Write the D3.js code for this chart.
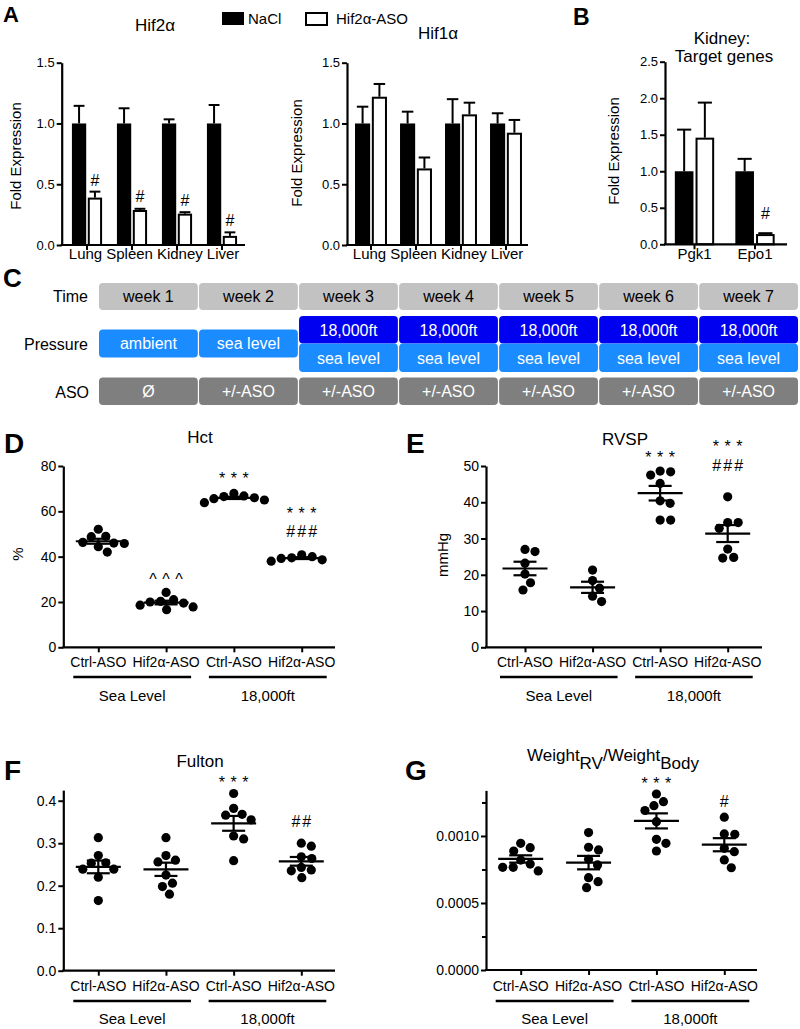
<!DOCTYPE html>
<html><head><meta charset="utf-8">
<script src="https://cdn.jsdelivr.net/npm/d3@7"></script>
<style>
body{margin:0;background:#fff;}
</style></head><body>
<svg id="fig" width="800" height="1029" xmlns="http://www.w3.org/2000/svg"></svg>
<script>
// ================= DATA =================
// Panel A / B (bar charts)
const legendLabels = ["NaCl", "Hif2α-ASO"];
const tissues = ["Lung", "Spleen", "Kidney", "Liver"];
const hif2aNaCl = [1.00, 1.00, 1.00, 1.00];
const hif2aNaClErr = [0.145, 0.125, 0.034, 0.152];
const hif2aASO = [0.39, 0.288, 0.258, 0.075];
const hif2aASOErr = [0.049, 0.010, 0.012, 0.029];
const hif2aMarks = ["#", "#", "#", "#"];
const hif2aMarkAt = [0.535, 0.40, 0.37, 0.206];

const hif1aNaCl = [1.00, 1.00, 1.00, 1.00];
const hif1aNaClErr = [0.138, 0.097, 0.200, 0.084];
const hif1aASO = [1.22, 0.63, 1.075, 0.924];
const hif1aASOErr = [0.105, 0.090, 0.096, 0.105];

const kidneyGenes = ["Pgk1", "Epo1"];
const kidneyNaCl = [1.00, 1.00];
const kidneyNaClErr = [0.57, 0.17];
const kidneyASO = [1.46, 0.14];
const kidneyASOErr = [0.48, 0.012];
const kidneyMarks = ["", "#"];
const kidneyMarkAt = [null, 0.42];

const barTicks = [0, 0.5, 1.0, 1.5];
const kidneyTicks = [0, 0.5, 1.0, 1.5, 2.0, 2.5];

// Panel C (timeline)
const weeks = ["week 1", "week 2", "week 3", "week 4", "week 5", "week 6", "week 7"];
const pressureFirst = ["ambient", "sea level"];
const pressureHigh = ["18,000ft", "18,000ft", "18,000ft", "18,000ft", "18,000ft"];
const pressureLow = ["sea level", "sea level", "sea level", "sea level", "sea level"];
const asoRow = ["Ø", "+/-ASO", "+/-ASO", "+/-ASO", "+/-ASO", "+/-ASO", "+/-ASO"];
const rowLabels = ["Time", "Pressure", "ASO"];

// Panels D-G (scatter)
const groupLabels = ["Ctrl-ASO", "Hif2α-ASO", "Ctrl-ASO", "Hif2α-ASO"];
const conditionLabels = ["Sea Level", "18,000ft"];

const hctCtrlSea = [52.1, 49.0, 48.8, 46.3, 46.0, 45.8, 44.4, 42.0];
const hctAsoSea = [24.2, 21.0, 20.3, 20.0, 19.5, 18.6, 17.8, 16.6];
const hctCtrlAlt = [67.9, 66.8, 66.5, 66.0, 65.6, 65.0, 63.8];
const hctAsoAlt = [40.8, 40.0, 39.5, 39.2, 38.6, 38.0];
const hctMarks = [[], ["^^^"], ["***"], ["***", "###"]];
const hctMarkAt = [[], [31.1], [76.1], [59.4, 51.0]];
const hctTicks = [0, 20, 40, 60, 80];

const rvspCtrlSea = [27.0, 26.4, 23.2, 20.2, 17.8, 15.8];
const rvspAsoSea = [21.3, 18.4, 16.3, 14.1, 12.6];
const rvspCtrlAlt = [48.6, 48.4, 47.5, 45.2, 40.4, 39.7, 35.1, 35.1];
const rvspAsoAlt = [41.5, 34.4, 34.4, 32.8, 27.1, 24.8, 24.6];
const rvspMarks = [[], [], ["***"], ["***", "###"]];
const rvspMarkAt = [[], [], [53.3], [55.8, 50.3]];
const rvspTicks = [0, 10, 20, 30, 40, 50];

const fultonCtrlSea = [0.313, 0.271, 0.254, 0.253, 0.239, 0.239, 0.220, 0.165];
const fultonAsoSea = [0.313, 0.271, 0.260, 0.256, 0.225, 0.206, 0.198, 0.180];
const fultonCtrlAlt = [0.417, 0.382, 0.368, 0.366, 0.355, 0.317, 0.310, 0.259];
const fultonAsoAlt = [0.300, 0.293, 0.268, 0.264, 0.243, 0.237, 0.235, 0.219];
const fultonMarks = [[], [], ["***"], ["##"]];
const fultonMarkAt = [[], [], [0.451], [0.351]];
const fultonTicks = [0, 0.1, 0.2, 0.3, 0.4];

const rvbwCtrlSea = [0.000945, 0.000913, 0.000888, 0.000820, 0.000790, 0.000766, 0.000766, 0.000739];
const rvbwAsoSea = [0.001025, 0.000916, 0.000896, 0.000826, 0.000784, 0.000689, 0.000659, 0.000614];
const rvbwCtrlAlt = [0.001313, 0.001256, 0.001226, 0.001190, 0.001107, 0.000975, 0.000945, 0.000888];
const rvbwAsoAlt = [0.001140, 0.001015, 0.001013, 0.000908, 0.000883, 0.000821, 0.000763];
const rvbwMarks = [[], [], ["***"], ["#"]];
const rvbwMarkAt = [[], [], [0.001418], [0.001256]];
const rvbwTicks = [0, 0.0005, 0.0010];
const rvbwMinorTicks = [0.00025, 0.00075, 0.00125];

// ================= DRAWING =================
const FONT = '"Liberation Sans", Arial, Helvetica, sans-serif';
const svg = d3.select("#fig");

function txt(g, x, y, s, size, o = {}) {
  const t = g.append("text").attr("x", x).attr("y", y).text(s)
    .attr("font-size", size).attr("font-family", FONT)
    .attr("text-anchor", o.anchor || "start")
    .attr("fill", o.fill || "#000");
  if (o.weight) t.attr("font-weight", o.weight);
  if (o.rotate) t.attr("transform", `rotate(-90,${x},${y})`);
  if (o.ls) t.attr("letter-spacing", o.ls);
  return t;
}

function markBaseOffset(s, fs) {
  if (s[0] === "*") return 0.58 * fs;
  if (s[0] === "^") return 0.52 * fs;
  return 0.36 * fs;
}

function drawYAxis(g, y, x0, ticks, fmt, fs, minor) {
  const a = g.append("g").attr("transform", `translate(${x0},0)`)
    .call(d3.axisLeft(y).tickValues(ticks).tickFormat(fmt).tickSize(5).tickSizeOuter(0).tickPadding(2));
  a.select(".domain").attr("stroke-width", 2.2).attr("stroke", "#000");
  a.selectAll(".tick line").attr("stroke-width", 2).attr("stroke", "#000");
  a.selectAll(".tick text").attr("font-size", fs).attr("font-family", FONT).attr("fill", "#000");
  if (minor) {
    const m = g.append("g").attr("transform", `translate(${x0},0)`)
      .call(d3.axisLeft(y).tickValues(minor).tickFormat("").tickSize(4).tickSizeOuter(0));
    m.select(".domain").remove();
    m.selectAll(".tick line").attr("stroke-width", 2).attr("stroke", "#000");
  }
}

function drawXAxis(g, xs, y0, x0, x1) {
  g.append("line").attr("x1", x0 - 1).attr("x2", x1).attr("y1", y0).attr("y2", y0)
    .attr("stroke", "#000").attr("stroke-width", 2.2);
  const a = g.append("g").attr("transform", `translate(0,${y0})`)
    .call(d3.axisBottom(xs).tickFormat("").tickSize(5).tickSizeOuter(0));
  a.select(".domain").remove();
  a.selectAll(".tick line").attr("stroke-width", 2).attr("stroke", "#000");
}

// push apart overlapping horizontal labels (centered text)
function relaxLabels(nodes, gap, minLeft) {
  const items = nodes.map(n => ({ n, c: +n.getAttribute("x"), w: n.getComputedTextLength() }));
  for (let it = 0; it < 60; it++) {
    for (let i = 0; i < items.length - 1; i++) {
      const a = items[i], b = items[i + 1];
      const ov = (a.c + a.w / 2 + gap) - (b.c - b.w / 2);
      if (ov > 0) { a.c -= ov / 2; b.c += ov / 2; }
    }
    if (minLeft != null && items[0].c - items[0].w / 2 < minLeft) items[0].c = minLeft + items[0].w / 2;
  }
  items.forEach(d => d.n.setAttribute("x", d.c));
}

// ---------- bar charts ----------
function barChart(o) {
  const g = svg.append("g");
  const y = d3.scaleLinear().domain(o.domain).range(o.yr);
  const x = d3.scaleBand().domain(o.cats).range(o.xr).paddingInner(o.pad).paddingOuter(o.pad / 2);
  const x1 = d3.scaleBand().domain([0, 1]).range([0, x.bandwidth()]).paddingInner(0.1);
  const bw = x1.bandwidth();
  const series = [
    { v: o.a, e: o.aErr },
    { v: o.b, e: o.bErr }
  ];
  series.forEach((s, si) => {
    o.cats.forEach((c, i) => {
      const bx = x(c) + x1(si);
      const cx = bx + bw / 2;
      g.append("line").attr("x1", cx).attr("x2", cx).attr("y1", y(s.v[i])).attr("y2", y(s.v[i] + s.e[i]))
        .attr("stroke", "#000").attr("stroke-width", 2);
      g.append("line").attr("x1", cx - bw * 0.38).attr("x2", cx + bw * 0.38)
        .attr("y1", y(s.v[i] + s.e[i])).attr("y2", y(s.v[i] + s.e[i]))
        .attr("stroke", "#000").attr("stroke-width", 2);
      if (si === 0) {
        g.append("rect").attr("x", bx).attr("width", bw).attr("y", y(s.v[i]))
          .attr("height", y(0) - y(s.v[i])).attr("fill", "#000");
      } else {
        g.append("rect").attr("x", bx + 1).attr("width", bw - 2).attr("y", y(s.v[i]) + 1)
          .attr("height", Math.max(0, y(0) - y(s.v[i]) - 1)).attr("fill", "#fff")
          .attr("stroke", "#000").attr("stroke-width", 2);
      }
    });
  });
  if (o.marks) {
    o.cats.forEach((c, i) => {
      if (!o.marks[i]) return;
      const cx = x(c) + x1(1) + bw / 2;
      txt(g, cx, y(o.markAt[i]) + markBaseOffset(o.marks[i], 16), o.marks[i], 16, { anchor: "middle" });
    });
  }
  drawYAxis(g, y, o.yAxisX, o.ticks, d3.format(".1f"), 13);
  drawXAxis(g, x, y(0), o.yAxisX, o.xEnd);
  const labs = o.cats.map(c => txt(g, x(c) + x.bandwidth() / 2, o.labelY, c, 15, { anchor: "middle" }).node());
  relaxLabels(labs, 4, o.yAxisX + 1);
  txt(g, o.ylabX, o.ylabY, "Fold Expression", 15, { anchor: "middle", rotate: true });
  return g;
}

barChart({ cats: tissues, a: hif2aNaCl, aErr: hif2aNaClErr, b: hif2aASO, bErr: hif2aASOErr,
  domain: [0, 1.5], yr: [245, 62.7], xr: [64.5, 244.5], pad: 0.33, ticks: barTicks,
  yAxisX: 61.7, xEnd: 245, labelY: 259, ylabX: 21, ylabY: 156, marks: hif2aMarks, markAt: hif2aMarkAt });
barChart({ cats: tissues, a: hif1aNaCl, aErr: hif1aNaClErr, b: hif1aASO, bErr: hif1aASOErr,
  domain: [0, 1.5], yr: [245, 62.7], xr: [348.5, 528.5], pad: 0.29, ticks: barTicks,
  yAxisX: 347, xEnd: 528, labelY: 259, ylabX: 302, ylabY: 153 });
barChart({ cats: kidneyGenes, a: kidneyNaCl, aErr: kidneyNaClErr, b: kidneyASO, bErr: kidneyASOErr,
  domain: [0, 2.5], yr: [244.3, 61.7], xr: [664.25, 785.25], pad: 0.35, ticks: kidneyTicks,
  yAxisX: 665, xEnd: 787, labelY: 259, ylabX: 619, ylabY: 151, marks: kidneyMarks, markAt: kidneyMarkAt });

const gTop = svg.append("g");
txt(gTop, 3, 22, "A", 22, { weight: "bold" });
txt(gTop, 573, 25, "B", 23, { weight: "bold" });
txt(gTop, 155, 31, "Hif2α", 17, { anchor: "middle" });
txt(gTop, 438, 39, "Hif1α", 17, { anchor: "middle" });
txt(gTop, 722, 44, "Kidney:", 17, { anchor: "middle" });
txt(gTop, 724, 62, "Target genes", 17, { anchor: "middle" });
gTop.append("rect").attr("x", 222).attr("y", 12).attr("width", 22).attr("height", 13).attr("fill", "#000");
txt(gTop, 248, 24, legendLabels[0], 15);
gTop.append("rect").attr("x", 306).attr("y", 13).attr("width", 21).attr("height", 12)
  .attr("fill", "#fff").attr("stroke", "#000").attr("stroke-width", 2);
txt(gTop, 336, 24, legendLabels[1], 15);

// ---------- Panel C ----------
{
  const g = svg.append("g");
  txt(g, 3, 287, "C", 26, { weight: "bold" });
  const xw = d3.scaleBand().domain(weeks).range([99, 798]).paddingInner(0.012);
  const box = (wk, y, h, fill, label, color) => {
    g.append("rect").attr("x", xw(wk)).attr("y", y).attr("width", xw.bandwidth()).attr("height", h)
      .attr("rx", 4).attr("ry", 4).attr("fill", fill);
    txt(g, xw(wk) + xw.bandwidth() / 2, y + h / 2 + 5.8, label, 16, { anchor: "middle", fill: color });
  };
  weeks.forEach(w => box(w, 283, 27, "#c2c2c2", w, "#000"));
  pressureFirst.forEach((p, i) => box(weeks[i], 329.5, 28, "#1a8cff", p, "#fff"));
  pressureHigh.forEach((p, i) => box(weeks[i + 2], 316, 27.5, "#0000f0", p, "#fff"));
  pressureLow.forEach((p, i) => box(weeks[i + 2], 343.5, 28.5, "#1a8cff", p, "#fff"));
  asoRow.forEach((p, i) => box(weeks[i], 377.5, 27.5, "#7f7f7f", p, "#fff"));
  txt(g, 88, 302, rowLabels[0], 16, { anchor: "end" });
  txt(g, 88, 350, rowLabels[1], 16, { anchor: "end" });
  txt(g, 89, 398, rowLabels[2], 16, { anchor: "end" });
}

// ---------- scatter panels ----------
function swarm(vals, y, r) {
  const pts = vals.map(v => ({ v, y: y(v), dx: 0 }));
  const order = pts.slice().sort((a, b) => a.y - b.y);
  const placed = [];
  const dmin = 2 * r + 1;
  for (const p of order) {
    for (let k = 0; k < 400; k++) {
      const off = (k % 2 ? 1 : -1) * Math.ceil(k / 2) * 0.5;
      if (placed.every(q => Math.hypot(q.dx - off, q.y - p.y) >= dmin)) { p.dx = off; break; }
    }
    placed.push(p);
  }
  return pts;
}

const MARK_FS = 16;
function scatterPanel(o) {
  const g = svg.append("g");
  const y = d3.scaleLinear().domain(o.domain).range(o.yr);
  const x = d3.scalePoint().domain(d3.range(o.groups.length)).range(o.xr);
  drawYAxis(g, y, o.yAxisX, o.ticks, o.fmt, 14, o.minor);
  drawXAxis(g, x, y(0), o.yAxisX, o.xEnd);
  o.groups.forEach((vals, i) => {
    const pts = swarm(vals, y, 4.6);
    g.append("g").selectAll("circle").data(pts).join("circle")
      .attr("cx", d => x(i) + d.dx).attr("cy", d => d.y).attr("r", 4.6).attr("fill", "#000");
    const m = d3.mean(vals), s = d3.deviation(vals) / Math.sqrt(vals.length);
    const ln = (x1, x2, y1, y2) => g.append("line").attr("x1", x1).attr("x2", x2).attr("y1", y1).attr("y2", y2)
      .attr("stroke", "#000").attr("stroke-width", 2.2);
    ln(x(i) - 22.5, x(i) + 22.5, y(m), y(m));
    ln(x(i) - 11.5, x(i) + 11.5, y(m + s), y(m + s));
    ln(x(i) - 11.5, x(i) + 11.5, y(m - s), y(m - s));
    ln(x(i), x(i), y(m + s), y(m - s));
    // significance marks, stacked from the lowest line upward with no box overlap
    const n = o.marks[i].length;
    let lowerBase = null;
    for (let j = n - 1; j >= 0; j--) {
      const mk = o.marks[i][j];
      const ls = (mk[0] === "*" || mk[0] === "^") ? 5.5 : 2;
      let base = y(o.markAt[i][j]) + markBaseOffset(mk, MARK_FS);
      if (lowerBase !== null) base = Math.min(base, lowerBase - 1.14 * MARK_FS);
      txt(g, x(i) + ls / 2, base, mk, MARK_FS, { anchor: "middle", ls: ls });
      lowerBase = base;
    }
    txt(g, x(i), o.labY, groupLabels[i], 14, { anchor: "middle" });
  });
  [[0, 1], [2, 3]].forEach((pair, k) => {
    const a = x(pair[0]) - 25, b = x(pair[1]) + 25;
    g.append("line").attr("x1", a).attr("x2", b).attr("y1", o.ulY).attr("y2", o.ulY)
      .attr("stroke", "#000").attr("stroke-width", 2.5);
    txt(g, (a + b) / 2, o.condY, conditionLabels[k], 15, { anchor: "middle" });
  });
  txt(g, o.panel[1], o.panel[2], o.panel[0], 28, { weight: "bold" });
  return g;
}

const gD = scatterPanel({ groups: [hctCtrlSea, hctAsoSea, hctCtrlAlt, hctAsoAlt], marks: hctMarks, markAt: hctMarkAt,
  domain: [0, 80], yr: [647.3, 466], xr: [98.3, 301.7], yAxisX: 63.3, xEnd: 335, ticks: hctTicks, fmt: d3.format("d"),
  labY: 667, ulY: 677, condY: 701, panel: ["D", 4, 453] });
txt(gD, 200, 443, "Hct", 17, { anchor: "middle" });
txt(gD, 23, 554, "%", 15, { anchor: "middle", rotate: true });

const gE = scatterPanel({ groups: [rvspCtrlSea, rvspAsoSea, rvspCtrlAlt, rvspAsoAlt], marks: rvspMarks, markAt: rvspMarkAt,
  domain: [0, 50], yr: [647.3, 466], xr: [525, 727.7], yAxisX: 486, xEnd: 762, ticks: rvspTicks, fmt: d3.format("d"),
  labY: 667, ulY: 677, condY: 701, panel: ["E", 406, 453] });
txt(gE, 625, 445, "RVSP", 17, { anchor: "middle" });
txt(gE, 448, 555, "mmHg", 15, { anchor: "middle", rotate: true });

const gF = scatterPanel({ groups: [fultonCtrlSea, fultonAsoSea, fultonCtrlAlt, fultonAsoAlt], marks: fultonMarks, markAt: fultonMarkAt,
  domain: [0, 0.425], yr: [970.7, 790.1], xr: [98.3, 301.3], yAxisX: 63.3, xEnd: 335, ticks: fultonTicks, fmt: d3.format(".1f"),
  labY: 991, ulY: 1001, condY: 1024, panel: ["F", 4, 780] });
txt(gF, 200, 767, "Fulton", 17, { anchor: "middle" });

const gG = scatterPanel({ groups: [rvbwCtrlSea, rvbwAsoSea, rvbwCtrlAlt, rvbwAsoAlt], marks: rvbwMarks, markAt: rvbwMarkAt,
  domain: [0, 0.00134], yr: [970, 790.4], xr: [520.7, 724.3], yAxisX: 486, xEnd: 757, ticks: rvbwTicks, fmt: d3.format(".4f"),
  minor: rvbwMinorTicks, labY: 991, ulY: 1001, condY: 1024, panel: ["G", 405, 780] });
{
  const t = gG.append("text").attr("x", 613).attr("y", 761).attr("text-anchor", "middle")
    .attr("font-size", 17).attr("font-family", FONT).attr("fill", "#000");
  t.append("tspan").text("Weight");
  t.append("tspan").attr("dy", 8).text("RV");
  t.append("tspan").attr("dy", -8).text("/Weight");
  t.append("tspan").attr("dy", 8).text("Body");
}
</script>
</body></html>
